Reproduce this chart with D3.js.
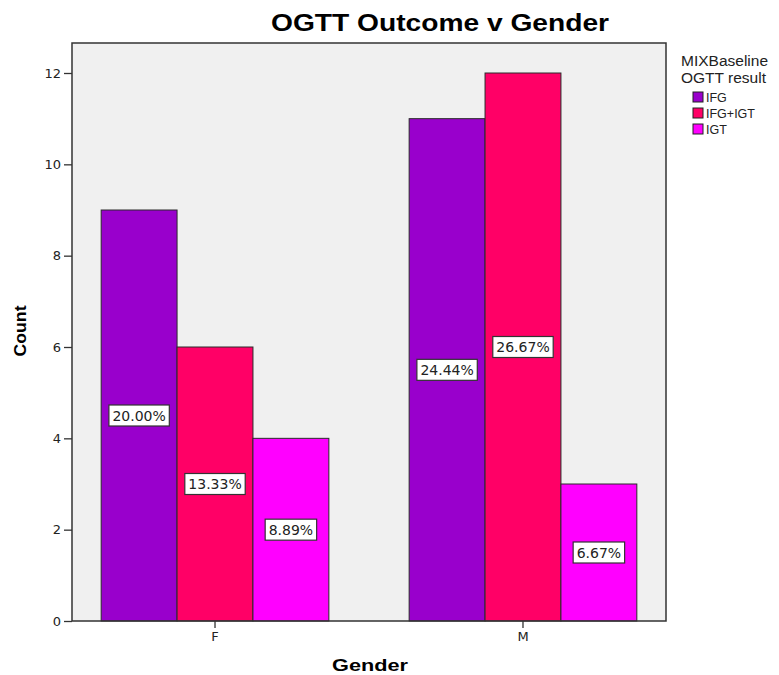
<!DOCTYPE html>
<html><head><meta charset="utf-8">
<script src="https://cdn.jsdelivr.net/npm/d3@7"></script>
<style>body{margin:0;background:#fff;}svg{display:block;}</style>
</head><body><svg id="c" width="779" height="675"></svg>
<script>
const categories = ["F", "M"];
const seriesNames = ["IFG", "IFG+IGT", "IGT"];
const counts = {
  "IFG": [9, 11],
  "IFG+IGT": [6, 12],
  "IGT": [4, 3]
};
const percentLabels = {
  "IFG": ["20.00%", "24.44%"],
  "IFG+IGT": ["13.33%", "26.67%"],
  "IGT": ["8.89%", "6.67%"]
};
const yTicks = [0, 2, 4, 6, 8, 10, 12];
const colors = ["#9900CC", "#FF0066", "#FF00FF"];

const svg = d3.select("#c");
const L = 72, R = 666, T = 43, B = 621;

const x0 = d3.scaleBand().domain(categories).range([L, R]).paddingInner(0.2607).paddingOuter(0.0947);
const x1 = d3.scaleBand().domain(seriesNames).range([0, x0.bandwidth()]);
const y = d3.scaleLinear().domain([0, (B - T) / ((B - 73) / 12)]).range([B, T]);
const color = d3.scaleOrdinal().domain(seriesNames).range(colors);

// plot background
svg.append("rect").attr("x", L).attr("y", T).attr("width", R - L).attr("height", B - T)
  .attr("fill", "#F0F0F0");

// bars
const rows = [];
categories.forEach((c, i) => seriesNames.forEach(s => rows.push({c, s, v: counts[s][i], p: percentLabels[s][i]})));
svg.append("g").selectAll("rect").data(rows).join("rect")
  .attr("x", d => x0(d.c) + x1(d.s))
  .attr("y", d => y(d.v))
  .attr("width", x1.bandwidth())
  .attr("height", d => y(0) - y(d.v))
  .attr("fill", d => color(d.s))
  .attr("stroke", "#2a2a2a").attr("stroke-width", 1);

// frame
svg.append("rect").attr("x", L).attr("y", T).attr("width", R - L).attr("height", B - T)
  .attr("fill", "none").attr("stroke", "#333").attr("stroke-width", 1.5);

// y axis
const yAxis = d3.axisLeft(y).tickValues(yTicks).tickSize(8).tickPadding(3).tickFormat(d3.format("d"));
const gy = svg.append("g").attr("transform", `translate(${L},0)`).call(yAxis);
gy.select(".domain").remove();
gy.selectAll("line").attr("stroke", "#333").attr("stroke-width", 1.3);
gy.selectAll("text").attr("font-family", "DejaVu Sans").attr("font-size", 13).attr("fill", "#222");

// x axis
const xAxis = d3.axisBottom(x0).tickSize(7).tickPadding(4);
const gx = svg.append("g").attr("transform", `translate(0,${B})`).call(xAxis);
gx.select(".domain").remove();
gx.selectAll("line").attr("stroke", "#333").attr("stroke-width", 1.3);
gx.selectAll("text").attr("font-family", "DejaVu Sans").attr("font-size", 13).attr("fill", "#222");

// percentage labels
const lg = svg.append("g").selectAll("g").data(rows).join("g")
  .attr("transform", d => `translate(${x0(d.c) + x1(d.s) + x1.bandwidth() / 2},${y(d.v / 2)})`);
lg.append("text").attr("class", "pl").text(d => d.p)
  .attr("text-anchor", "middle").attr("dy", "0.36em")
  .attr("font-family", "DejaVu Sans").attr("font-size", 14).attr("fill", "#222");
lg.each(function() {
  const g = d3.select(this);
  const bb = g.select("text").node().getBBox();
  g.insert("rect", "text").attr("x", bb.x - 3.5).attr("y", -10.5).attr("width", bb.width + 7).attr("height", 21)
    .attr("fill", "#fff").attr("stroke", "#333").attr("stroke-width", 1.2);
});

// title
svg.append("text").attr("x", 440).attr("y", 31).attr("text-anchor", "middle")
  .attr("font-family", "Liberation Sans, Arial").attr("font-weight", "bold").attr("font-size", 24)
  .attr("textLength", 338).attr("lengthAdjust", "spacingAndGlyphs")
  .attr("fill", "#000").text("OGTT Outcome v Gender");

// axis titles
svg.append("text").attr("transform", "translate(26,331) rotate(-90)").attr("text-anchor", "middle")
  .attr("font-family", "Liberation Sans, Arial").attr("font-weight", "bold").attr("font-size", 17)
  .attr("textLength", 51).attr("lengthAdjust", "spacingAndGlyphs")
  .attr("fill", "#000").text("Count");
svg.append("text").attr("x", 370).attr("y", 671).attr("text-anchor", "middle")
  .attr("font-family", "Liberation Sans, Arial").attr("font-weight", "bold").attr("font-size", 17)
  .attr("textLength", 76).attr("lengthAdjust", "spacingAndGlyphs")
  .attr("fill", "#000").text("Gender");

// legend
const leg = svg.append("g");
leg.append("text").attr("x", 681).attr("y", 66).attr("font-family", "Liberation Sans, Arial")
  .attr("font-size", 15.5).attr("fill", "#222").text("MIXBaseline");
leg.append("text").attr("x", 681).attr("y", 83).attr("font-family", "Liberation Sans, Arial")
  .attr("font-size", 15.5).attr("fill", "#222").text("OGTT result");
const li = leg.selectAll("g.it").data(seriesNames).join("g").attr("class", "it")
  .attr("transform", (d, i) => `translate(693,${92 + i * 16})`);
li.append("rect").attr("width", 10).attr("height", 10).attr("fill", d => color(d))
  .attr("stroke", "#222").attr("stroke-width", 1);
li.append("text").attr("x", 13).attr("y", 9.5).attr("font-family", "Liberation Sans, Arial")
  .attr("font-size", 12.5).attr("fill", "#222").text(d => d);
</script></body></html>
